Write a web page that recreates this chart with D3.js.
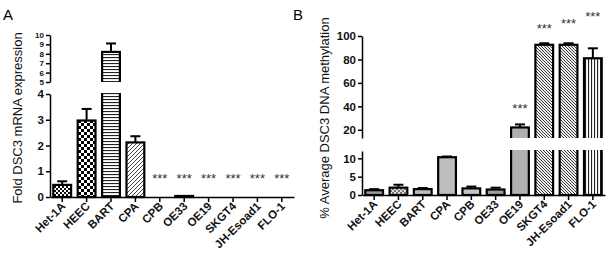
<!DOCTYPE html>
<html>
<head>
<meta charset="utf-8">
<script src="https://cdn.jsdelivr.net/npm/d3@7"></script>
<style>
  body { margin: 0; background: #fff; }
  text { font-family: "Liberation Sans", Arial, sans-serif; }
  .tick text { font-weight: bold; font-size: 11.5px; fill: #111; }
  .axis path, .axis line { stroke: #000; stroke-width: 1.5; }
</style>
</head>
<body>
<script>
// categories and values
var cells = ["Het-1A", "HEEC", "BART", "CPA", "CPB", "OE33", "OE19", "SKGT4", "JH-Esoad1", "FLO-1"];

// panel A: fold DSC3 mRNA expression
var foldMean = [0.47, 2.97, 8.2, 2.12, 0, 0.04, 0, 0, 0, 0];
var foldErr  = [0.14, 0.45, 0.9, 0.24, 0, 0, 0, 0, 0, 0];
var foldStars = [null, null, null, null, 0.8, 0.8, 0.8, 0.8, 0.8, 0.8];
var foldTicksLow = [0, 1, 2, 3, 4];
var foldTicksHigh = [5, 6, 7, 8, 9, 10];

// panel B: % average DSC3 DNA methylation
var methMean = [1.3, 2.0, 1.6, 10.3, 1.8, 1.5, 22, 92.5, 92.5, 81];
var methErr  = [0.3, 0.8, 0.3, 0.2, 0.5, 0.5, 2.6, 1.3, 1.3, 8.5];
var methStars = [null, null, null, null, null, null, 40, 108.5, 112.5, 118.5];
var methTicksLow = [0, 5, 10];
var methTicksHigh = [20, 40, 60, 80, 100];

var fillA = ["url(#chkS)", "url(#chkL)", "url(#hLines)", "url(#diagF)", "#fff", "#000", "#fff", "#fff", "#fff", "#fff"];
var fillB = ["#9a9a9a", "url(#chkG)", "#bdbdbd", "#bdbdbd", "#c4c4c4", "#9d9d9d", "#b0b0b0", "url(#diagB)", "url(#diagB)", "url(#vLines)"];

var w = 608, h = 256;

var svg = d3.select("body").append("svg")
  .attr("width", w)
  .attr("height", h);

var defs = svg.append("defs");

// fill patterns
function pattern(id, size) {
  return defs.append("pattern").attr("id", id)
    .attr("patternUnits", "userSpaceOnUse")
    .attr("width", size).attr("height", size);
}
var p = pattern("chkS", 4);
p.append("rect").attr("width", 4).attr("height", 4).attr("fill", "#fff");
p.append("rect").attr("width", 2).attr("height", 2).attr("fill", "#111");
p.append("rect").attr("x", 2).attr("y", 2).attr("width", 2).attr("height", 2).attr("fill", "#111");

p = pattern("chkL", 6);
p.append("rect").attr("width", 6).attr("height", 6).attr("fill", "#fff");
p.append("rect").attr("width", 3).attr("height", 3).attr("fill", "#000");
p.append("rect").attr("x", 3).attr("y", 3).attr("width", 3).attr("height", 3).attr("fill", "#000");

p = pattern("chkG", 4);
p.append("rect").attr("width", 4).attr("height", 4).attr("fill", "#ddd");
p.append("rect").attr("width", 2).attr("height", 2).attr("fill", "#777");
p.append("rect").attr("x", 2).attr("y", 2).attr("width", 2).attr("height", 2).attr("fill", "#777");

p = pattern("hLines", 3);
p.append("rect").attr("width", 3).attr("height", 3).attr("fill", "#fff");
p.append("rect").attr("y", 0).attr("width", 3).attr("height", 1.1).attr("fill", "#222");

p = pattern("vLines", 3);
p.append("rect").attr("width", 3).attr("height", 3).attr("fill", "#fff");
p.append("rect").attr("x", 0).attr("width", 1.1).attr("height", 3).attr("fill", "#222");

p = pattern("diagF", 4);
p.append("rect").attr("width", 4).attr("height", 4).attr("fill", "#fff");
p.append("path").attr("d", "M-1,1 l2,-2 M0,4 l4,-4 M3,5 l2,-2").attr("stroke", "#444").attr("stroke-width", 1);

p = pattern("diagB", 3);
p.append("rect").attr("width", 3).attr("height", 3).attr("fill", "#eee");
p.append("path").attr("d", "M-1,-1 l2,2 M0,0 l3,3 M2,2 l2,2").attr("stroke", "#333").attr("stroke-width", 0.9);

// draws one broken-axis panel
function panel(cfg) {
  var x = d3.scaleBand().domain(cells).range(cfg.xr).paddingInner(0.27).paddingOuter(0.135);
  var segs = [cfg.low, cfg.high];

  segs.forEach(function(s, si) {
    var clipId = cfg.id + "clip" + si;
    var y0 = s.y.range()[0], y1 = s.y.range()[1];
    var cTop = si == 0 ? y1 - 1 : y1 - 30;
    defs.append("clipPath").attr("id", clipId)
      .append("rect").attr("x", cfg.xr[0]).attr("y", cTop)
      .attr("width", cfg.xr[1] - cfg.xr[0]).attr("height", (y0 - cTop) + (si == 0 ? 3 : 0));

    var g = svg.append("g").attr("clip-path", "url(#" + clipId + ")");
    var lo = s.y.domain()[0], hi = s.y.domain()[1];
    cells.forEach(function(c, i) {
      var v = cfg.mean[i];
      if (v <= lo) return;
      var top = s.y(Math.min(v, hi + 2));
      var bottom = si == 0 ? s.y(0) : s.y(lo) + 6;
      g.append("rect")
        .attr("x", x(c)).attr("width", x.bandwidth())
        .attr("y", top).attr("height", Math.max(0.5, bottom - top))
        .attr("fill", cfg.fills[i])
        .attr("stroke", "#000").attr("stroke-width", 2.2);
      // upper error bar with a cap
      if (v <= hi && cfg.err[i] > 0) {
        var et = s.y(v + cfg.err[i]);
        var cx = x(c) + x.bandwidth() / 2;
        g.append("line").attr("x1", cx).attr("x2", cx).attr("y1", top).attr("y2", et)
          .attr("stroke", "#000").attr("stroke-width", 2);
        g.append("line").attr("x1", cx - 5).attr("x2", cx + 5).attr("y1", et).attr("y2", et)
          .attr("stroke", "#000").attr("stroke-width", 2);
      }
    });

    var ax = svg.append("g").attr("class", "axis")
      .attr("transform", "translate(" + cfg.xr[0] + ",0)")
      .call(d3.axisLeft(s.y).tickValues(s.ticks).tickFormat(d3.format("d"))
        .tickSize(4).tickSizeOuter(0).tickPadding(2));
    if (s.font) ax.selectAll(".tick text").style("font-size", s.font + "px");
  });

  // x axis on the lower segment
  var xa = svg.append("g").attr("class", "axis")
    .attr("transform", "translate(0," + cfg.low.y(0) + ")")
    .call(d3.axisBottom(x).tickSize(5).tickSizeOuter(0));
  xa.selectAll(".tick text")
    .attr("text-anchor", "end")
    .attr("dx", 0).attr("dy", 0)
    .attr("transform", "translate(4,10) rotate(-45)")
    .attr("y", 0).attr("x", 0);

  // significance stars
  cells.forEach(function(c, i) {
    var sv = cfg.stars[i];
    if (sv == null) return;
    var s = sv > cfg.low.y.domain()[1] ? cfg.high : cfg.low;
    svg.append("text")
      .attr("x", x(c) + x.bandwidth() / 2)
      .attr("y", s.y(sv) + 7)
      .attr("text-anchor", "middle")
      .attr("font-size", 13)
      .attr("fill", "#333")
      .text("***");
  });

  svg.append("text")
    .attr("transform", "translate(" + cfg.labX + "," + cfg.labY + ") rotate(-90)")
    .attr("text-anchor", "middle")
    .attr("font-size", 13)
    .attr("fill", "#111")
    .text(cfg.label);

  svg.append("text")
    .attr("x", cfg.letterX).attr("y", 20)
    .attr("font-size", 15)
    .text(cfg.letter);
}

panel({
  id: "A",
  xr: [50, 294],
  mean: foldMean, err: foldErr, stars: foldStars, fills: fillA,
  low: { y: d3.scaleLinear().domain([0, 4]).range([197, 94]), ticks: foldTicksLow },
  high: { y: d3.scaleLinear().domain([5, 10]).range([82, 35]), ticks: foldTicksHigh, font: 8 },
  label: "Fold DSC3 mRNA expression", labX: 22, labY: 118,
  letter: "A", letterX: 3
});

panel({
  id: "B",
  xr: [362, 605],
  mean: methMean, err: methErr, stars: methStars, fills: fillB,
  low: { y: d3.scaleLinear().domain([0, 12]).range([195, 151]), ticks: methTicksLow },
  high: { y: d3.scaleLinear().domain([13, 100]).range([138, 36]), ticks: methTicksHigh },
  label: "% Average DSC3 DNA methylation", labX: 329, labY: 118,
  letter: "B", letterX: 293
});
</script>
</body>
</html>
